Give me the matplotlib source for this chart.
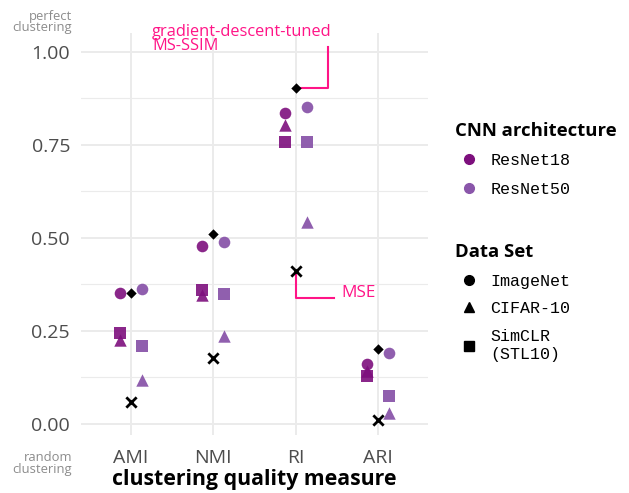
import matplotlib
matplotlib.use("Agg")
from matplotlib import pyplot as plt
from matplotlib.lines import Line2D
import numpy as np

plt.rcParams["font.family"] = ["Open Sans", "DejaVu Sans"]

measures = ["AMI", "NMI", "RI", "ARI"]
# CNN-feature distances, per measure: ImageNet, CIFAR-10, SimCLR (STL10)
resnet18 = {
    "ImageNet": [0.352, 0.478, 0.836, 0.161],
    "CIFAR-10": [0.225, 0.347, 0.803, 0.141],
    "SimCLR": [0.243, 0.359, 0.756, 0.128],
}
resnet50 = {
    "ImageNet": [0.363, 0.489, 0.851, 0.191],
    "CIFAR-10": [0.117, 0.236, 0.541, 0.030],
    "SimCLR": [0.210, 0.348, 0.758, 0.074],
}
ms_ssim = [0.350, 0.510, 0.901, 0.200]
mse = [0.057, 0.177, 0.410, 0.010]

col18 = "#7d0f7d"
col50 = "#8a56aa"
pink = "#ff1487"
grey = "#4d4d4d"
shapes = {"ImageNet": "o", "CIFAR-10": "^", "SimCLR": "s"}
sizes = {"ImageNet": 70, "CIFAR-10": 80, "SimCLR": 70}
dodge = 0.135

fig = plt.figure(figsize=(6.29, 4.93), dpi=100)
ax = fig.add_axes([0.129, 0.118, 0.551, 0.815])

x = np.arange(1, len(measures) + 1)
for ds in ["SimCLR", "CIFAR-10", "ImageNet"]:
    ax.scatter(x - dodge, resnet18[ds], marker=shapes[ds], s=sizes[ds],
               color=col18, alpha=0.9, linewidths=0, zorder=3)
    ax.scatter(x + dodge, resnet50[ds], marker=shapes[ds], s=sizes[ds],
               color=col50, alpha=0.95, linewidths=0, zorder=3)
ax.scatter(x, ms_ssim, marker="D", s=28, color="black", linewidths=0, zorder=4)
ax.scatter(x, mse, marker="x", s=55, color="black", linewidths=2, zorder=4)

# annotation callouts (RI column)
ri = measures.index("RI") + 1
ax.plot([ri, 3.387, 3.387], [ms_ssim[2], ms_ssim[2], 1.012], color=pink,
        lw=1.5, clip_on=False, zorder=2)
ax.text(1.26, 1.073, "gradient-descent-tuned\nMS-SSIM", ha="left", va="top",
        color=pink, fontsize=11.8, linespacing=0.78)
ax.plot([ri, ri, 3.47], [mse[2], 0.339, 0.339], color=pink, lw=1.5, zorder=2)
ax.text(3.556, 0.352, "MSE", ha="left", va="center", color=pink, fontsize=12.3)

ax.set_xlim(0.4, 4.6)
ax.set_ylim(-0.03, 1.05)
ax.set_xticks(x)
ax.set_xticklabels(measures)
ax.set_yticks([0, 0.25, 0.5, 0.75, 1.0])
ax.set_yticklabels(["0.00", "0.25", "0.50", "0.75", "1.00"])
ax.set_yticks([0.125, 0.375, 0.625, 0.875], minor=True)
ax.tick_params(axis="both", which="both", length=0, colors=grey, labelsize=14)
ax.tick_params(axis="y", pad=8)
ax.tick_params(axis="x", pad=10)
ax.grid(True, which="major", color="#ebebeb", lw=1.4)
ax.grid(True, which="minor", axis="y", color="#ebebeb", lw=0.8)
ax.set_axisbelow(True)
for s in ax.spines.values():
    s.set_visible(False)
ax.set_xlabel("clustering quality measure", fontsize=15.3, fontweight="bold",
              labelpad=2)

fig.text(0.115, 0.98, "perfect\nclustering", ha="right", va="top",
         color="#8c8c8c", fontsize=9.4, linespacing=0.85)
fig.text(0.115, 0.085, "random\nclustering", ha="right", va="top",
         color="#8c8c8c", fontsize=9.4, linespacing=0.85)

mono = {"family": "Liberation Mono", "size": 12}
title_font = {"weight": "bold", "size": 13.3}
h1 = [Line2D([], [], ls="", marker="o", ms=7, color=col18),
      Line2D([], [], ls="", marker="o", ms=7, color=col50)]
leg1 = fig.legend(h1, ["ResNet18", "ResNet50"], title="CNN architecture",
                  loc="upper left", bbox_to_anchor=(0.7, 0.783), frameon=False,
                  prop=mono, handletextpad=0.5, handlelength=1.6, labelspacing=0.8,
                  alignment="left", title_fontproperties=title_font)
h2 = [Line2D([], [], ls="", marker="o", ms=7, color="black"),
      Line2D([], [], ls="", marker="^", ms=7, color="black"),
      Line2D([], [], ls="", marker="s", ms=7, color="black")]
leg2 = fig.legend(h2, ["ImageNet", "CIFAR-10", "SimCLR\n(STL10)"], title="Data Set",
                  loc="upper left", bbox_to_anchor=(0.7, 0.537), frameon=False,
                  prop=mono, handletextpad=0.5, handlelength=1.6, labelspacing=0.75,
                  alignment="left", title_fontproperties=title_font)
for t in leg2.get_texts():
    t.set_linespacing(1.3)

fig.savefig("out.png", dpi=100)
